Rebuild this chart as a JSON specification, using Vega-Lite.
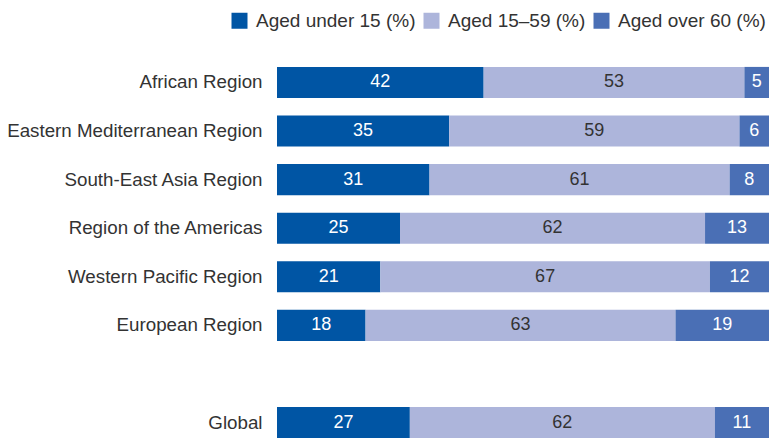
{
  "$schema": "https://vega.github.io/schema/vega-lite/v6.json",
  "autosize": "none",
  "width": 492,
  "height": 377,
  "padding": {"left": 277, "top": 64, "right": 4, "bottom": 0},
  "config": {"view": {"stroke": null}, "font": "Liberation Sans"},
  "data": {"values": [
    {"region": "African Region", "group": "Aged under 15 (%)", "o": 1, "v": 42},
    {"region": "African Region", "group": "Aged 15–59 (%)", "o": 2, "v": 53},
    {"region": "African Region", "group": "Aged over 60 (%)", "o": 3, "v": 5},
    {"region": "Eastern Mediterranean Region", "group": "Aged under 15 (%)", "o": 1, "v": 35},
    {"region": "Eastern Mediterranean Region", "group": "Aged 15–59 (%)", "o": 2, "v": 59},
    {"region": "Eastern Mediterranean Region", "group": "Aged over 60 (%)", "o": 3, "v": 6},
    {"region": "South-East Asia Region", "group": "Aged under 15 (%)", "o": 1, "v": 31},
    {"region": "South-East Asia Region", "group": "Aged 15–59 (%)", "o": 2, "v": 61},
    {"region": "South-East Asia Region", "group": "Aged over 60 (%)", "o": 3, "v": 8},
    {"region": "Region of the Americas", "group": "Aged under 15 (%)", "o": 1, "v": 25},
    {"region": "Region of the Americas", "group": "Aged 15–59 (%)", "o": 2, "v": 62},
    {"region": "Region of the Americas", "group": "Aged over 60 (%)", "o": 3, "v": 13},
    {"region": "Western Pacific Region", "group": "Aged under 15 (%)", "o": 1, "v": 21},
    {"region": "Western Pacific Region", "group": "Aged 15–59 (%)", "o": 2, "v": 67},
    {"region": "Western Pacific Region", "group": "Aged over 60 (%)", "o": 3, "v": 12},
    {"region": "European Region", "group": "Aged under 15 (%)", "o": 1, "v": 18},
    {"region": "European Region", "group": "Aged 15–59 (%)", "o": 2, "v": 63},
    {"region": "European Region", "group": "Aged over 60 (%)", "o": 3, "v": 19},
    {"region": "Global", "group": "Aged under 15 (%)", "o": 1, "v": 27},
    {"region": "Global", "group": "Aged 15–59 (%)", "o": 2, "v": 62},
    {"region": "Global", "group": "Aged over 60 (%)", "o": 3, "v": 11}
  ]},
  "transform": [
    {"stack": "v", "groupby": ["region"], "sort": [{"field": "o", "order": "ascending"}], "as": ["v0", "v1"]}
  ],
  "encoding": {
    "y": {
      "field": "region", "type": "nominal",
      "scale": {
        "domain": ["African Region", "Eastern Mediterranean Region", "South-East Asia Region", "Region of the Americas", "Western Pacific Region", "European Region", "", "Global"],
        "paddingInner": 0.36, "paddingOuter": 0.06
      },
      "axis": {"title": null, "domain": false, "ticks": false, "labelPadding": 15, "labelFontSize": 18.75, "labelLimit": 400, "labelColor": "#333333", "labelFont": "Liberation Sans"}
    }
  },
  "layer": [
    {
      "mark": {"type": "bar"},
      "encoding": {
        "x": {
          "field": "v0", "type": "quantitative",
          "scale": {"domain": [0, 100], "nice": false},
          "axis": null
        },
        "x2": {"field": "v1"},
        "color": {
          "field": "group", "type": "nominal",
          "scale": {"domain": ["Aged under 15 (%)", "Aged 15–59 (%)", "Aged over 60 (%)"], "range": ["#0055a4", "#adb5db", "#4a6fb5"]},
          "legend": {
            "title": null, "orient": "none", "direction": "horizontal",
            "legendX": -47, "legendY": -53,
            "symbolType": "square", "symbolSize": 256, "symbolStrokeWidth": 0,
            "labelFontSize": 19, "labelColor": "#333333", "labelFont": "Liberation Sans",
            "labelOffset": 7, "columnPadding": 6, "labelLimit": 300
          }
        }
      }
    },
    {
      "transform": [{"fold": ["v0", "v1"], "as": ["k", "pos"]}],
      "mark": {"type": "text", "fontSize": 18, "align": "center", "baseline": "middle"},
      "encoding": {
        "x": {"field": "pos", "aggregate": "mean", "type": "quantitative"},
        "text": {"field": "v", "type": "quantitative"},
        "detail": {"field": "o", "type": "ordinal"},
        "color": {"condition": {"test": "datum.o == 2", "value": "#333333"}, "value": "white"}
      }
    }
  ]
}
